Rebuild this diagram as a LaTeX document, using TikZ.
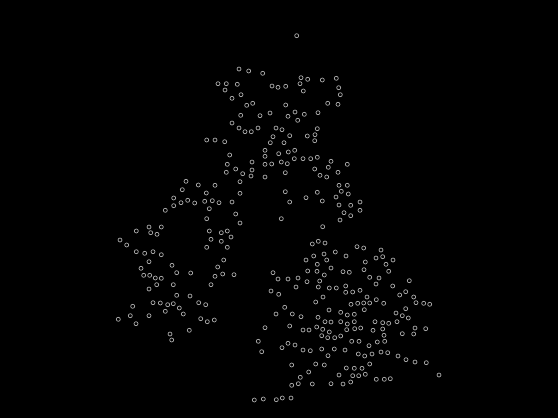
\documentclass[tikz,border=0pt]{standalone}
\tikzset{site/.style={draw=white!72!black,line width=0.65pt,fill=none}}
\begin{document}
\begin{tikzpicture}[x=1pt,y=-1pt]
\fill[black] (0,0) rectangle (558,418);
\useasboundingbox (0,0) rectangle (558,418);
\foreach \p in {
(296.7,35.7),(239,69),(248.7,71),(262.7,73.3),(301,77.7),(307.7,79.3),(322.3,80),(336.3,78.3),(218,83.7),(226.3,83.7),(237.3,84.3),(225,90),(272,86),(278,87.3),(285.7,86.3),(300,83.7),(303.3,91),(338.7,87.7),(340.3,94.7),(232,98.3),(241,94.7),(246.7,105.3),(252.7,103.3),(285.7,105),(327.7,103.3),(338,104.3),(240.7,115.3),(260,115.7),(270,113),(288,116.3),(295,112),(304.3,114.3),(318,112.7),(297.7,120.3),(232,123),(239,128),(245,131.7),(251.3,131.7),(258,128),(276,128),(282,129.7),(317.3,128.7),
(206.7,140),(215,140),(224.7,141.7),(273,136.7),(289.7,135.7),(307.3,136),(315,134.7),(314.7,140.7),(270.3,142.7),(284,142.7),(265,150.3),(278.7,153.7),(288.3,152),(294.7,150.3),(229.7,155),(265,156.3),(294.3,158.7),(303,158.7),(310.7,158.7),(317.3,157.3),(331,161.3),(252,162),(281.3,162),(287.3,163.7),(265,164.3),(271.7,164),(227.3,164.3),(347.3,164.3),(235.7,169),(252,170),(314.7,169),(328.3,167.3),(226.3,172.3),(242.7,173.7),(251,176),(285.3,172.7),(338,172.3),(320,175.3),(326.7,177),(265,177),(240,181.7),(215,185.3),(339,185.3),(347.3,185.3),(341.3,191.3),(206.3,193),(240,193.3),(285.3,191.7),(317.3,192.3),(348.3,194),(306,197.7),(336,197),(204.7,201.3),(212.3,200.7),(219,202.7),(232,202),(289.7,202),(322.3,201),(360,202),(339,205),(350.7,205.3),(209.3,208.7),(235.7,214),(360,210.3),(344,212.7),(350.7,215.7),(206.7,218.7),(281.3,218.7),(340,220),(240,223),(322.7,226.7),(209.3,231),(221.3,232.7),(227.3,231),
(186,181.3),(198.3,185),(182.3,189.7),(173.7,198),(181,202.7),(187.7,200.3),(194.7,203),(173.7,205.7),(165.3,210.3),(149,227),(161.3,227),(136.3,231),(150.7,232.7),(157,234.3),(231,237),(211,239.3),(221.3,241.3),(120,240),(126.7,245),(206.7,247.3),(227.3,247.3),(136.3,251.7),(144.7,253.3),(153,251.7),(161.3,254.7),(223.7,260),(149,261.7),(172,265.3),(217.7,267),(141,268.3),(176.7,272.7),(190.7,273),(143.7,275.3),(149.7,275.3),(155.3,278),(161.3,278.3),(215,276.3),(222.7,274),(234,274.7),
(156.7,284.7),(149,289),(173.3,284.7),(211,284.7),(176.7,295.3),(190,296),(153,302.7),(160.3,303),(167.7,304.7),(173.3,303.7),(179.3,308),(198.7,302.7),(205.7,304.7),(132.7,306.3),(165.3,311.3),(183.3,314),(130.3,315.7),(149,315.7),(118.3,319.3),(136,323.7),(200.7,318.7),(207.3,321.7),(214.3,320),(170,334),(189.3,330.3),(171.7,340),
(312.3,244),(318.3,241.3),(325,243),(324,254),(335.3,252),(313.7,256),(346,256),(306,260),(326.7,260),(317.3,264.3),(331,268),(307.7,271),(317,271.3),(343,271.7),(349.3,272.3),(324.3,275),(273,272.7),(278,279),(288,279),(298,278),(307,281.7),(319.7,281),(296,287),(318.3,287),(329.3,288),(336.3,288),(345.7,286),(271,291),
(357,246.7),(363.7,248),(381,250),(376,258),(382.7,256.7),(393,260),(365.3,262),(386,264.3),(364,269.7),(388.7,271.3),(369.7,277.3),(379,278),(409.3,280.7),(376,284),(392.7,286),(360,290.3),(352.7,292),(345.7,292.3),(405.7,291.7),(399.7,295),(367,297),(413.7,297),(376.3,299.7),(416,302.7),(423.7,303.3),(429.7,304.3),(357.7,303.3),(363.7,303),(369.7,303),(383.7,303.3),(351,304.3),
(278.7,294.3),(315.7,302),(284.7,307.3),(276,314),(292.3,314),(301,316.7),(318,317.3),(265,327.7),(289.7,326),(303,330),(309,330),(316.7,327),(258.3,341.3),(288,343.3),(295,345),
(323,297),(329,310),(364.3,309.7),(340.7,312.3),(347.3,315),(354.3,314.3),(325,321.7),(331,322),(340.7,321.7),(347.3,324),(354.3,321.7),(322.7,329.3),(329.3,332),(346.7,329.7),(354.7,328.7),(360.7,328),(321.7,335.7),(327.7,337.7),(334.7,337.7),(340.7,336),(351.7,341.3),(359,341.3),
(405.7,308.7),(396,313),(402.3,315.7),(408.3,318),(397,321.7),(375,321.7),(382.7,322.7),(388.7,323.3),(382.7,329),(373,330.3),(415,328),(425.7,328.7),(402.3,333.7),(413.7,334),(384,335.3),(384.7,341.3),(377.3,342),(369,345.7),
(261.7,351.7),(282,347.7),(303,350),(310.3,350.7),(321.7,349),(334.3,349),(345,350),(328,355.7),(291.7,365),(315.7,364),(324.3,365),(346.3,368),(308.7,372),(339,375),(300.3,377.3),(298.3,383.7),(291.7,385.3),(312.3,384),(331,383.7),(343,384),(254.3,400),(263.3,399),(276.3,399.7),(282.3,398),(291,398),
(358.3,354),(364.7,356),(372,354),(381,352),(387.7,352.7),(398,356),(406,359.7),(415,362),(426.3,362.7),(439,375),(369.7,364),(354.3,368.3),(362,368.3),(352.7,375.7),(358.7,375.7),(365.3,374.3),(350.7,382),(376.3,379.3),(384.3,379.3),(390.3,378.7)
}{
\draw[site] \p circle[radius=2];
}
\end{tikzpicture}
\end{document}
